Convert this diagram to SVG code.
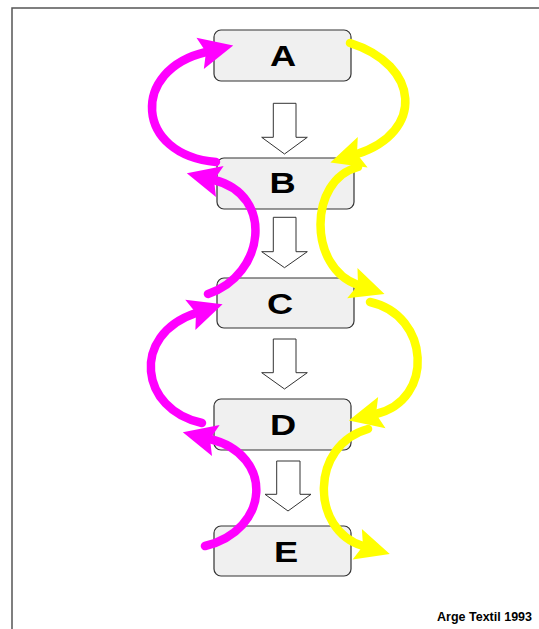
<svg xmlns="http://www.w3.org/2000/svg" width="539" height="629" viewBox="0 0 539 629">
<style>
.box{fill:#f0f0f0;stroke:#333;stroke-width:1.2}
.lbl{font-family:"Liberation Sans",Arial,sans-serif;font-weight:bold;font-size:29px;fill:#000;text-anchor:middle}
.down{fill:#fff;stroke:#333;stroke-width:1}
.mag{fill:none;stroke:#ff00ff;stroke-width:8.5;stroke-linecap:round}
.yel{fill:none;stroke:#ffff00;stroke-width:8.5;stroke-linecap:round}
.frame{fill:none;stroke:#555;stroke-width:1.5}
.credit{font-family:"Liberation Sans",Arial,sans-serif;font-weight:bold;font-size:12.5px;fill:#000;text-anchor:end}
</style>
<defs>
<marker id="hm" markerUnits="userSpaceOnUse" viewBox="-10 -20 45 40" refX="0" refY="0" markerWidth="45" markerHeight="40" orient="auto">
<path d="M28,0 L-6,-16 L0,0 L-6,16 Z" fill="#ff00ff"/>
</marker>
<marker id="hy" markerUnits="userSpaceOnUse" viewBox="-10 -20 45 40" refX="0" refY="0" markerWidth="45" markerHeight="40" orient="auto">
<path d="M28,0 L-6,-16 L0,0 L-6,16 Z" fill="#ffff00"/>
</marker>
</defs>
<rect width="539" height="629" fill="#fff"/>
<polyline class="frame" points="12,629 12,8 539,8"/>

<g id="nodeA"><rect class="box" x="214" y="30" width="137" height="51" rx="7"/><text class="lbl" transform="translate(283,66) scale(1.25,1)">A</text></g>
<g id="nodeB"><rect class="box" x="217" y="158" width="137" height="51" rx="7"/><text class="lbl" transform="translate(282.5,193) scale(1.25,1)">B</text></g>
<g id="nodeC"><rect class="box" x="217" y="278" width="137" height="50" rx="7"/><text class="lbl" transform="translate(280,314) scale(1.25,1)">C</text></g>
<g id="nodeD"><rect class="box" x="214" y="399" width="137" height="51" rx="7"/><text class="lbl" transform="translate(283,435) scale(1.25,1)">D</text></g>
<g id="nodeE"><rect class="box" x="214" y="526" width="137" height="50" rx="7"/><text class="lbl" transform="translate(286,562) scale(1.25,1)">E</text></g>

<g id="connectors">
<polygon class="down" points="273.3,103.3 296,103.3 296,137.3 307.3,137.3 284.5,154 261.7,137.3 273.3,137.3"/>
<polygon class="down" points="273.3,217.3 296,217.3 296,251.7 307.3,251.7 284.5,267.7 261.7,251.7 273.3,251.7"/>
<polygon class="down" points="273.3,339 296,339 296,372.7 307.3,372.7 284.5,389 261.7,372.7 273.3,372.7"/>
<polygon class="down" points="276.7,461 300,461 300,494.3 311,494.3 288,511 265,494.3 276.7,494.3"/>

<path class="mag" marker-end="url(#hm)" d="M216,162 C135,155 130,70 206,52"/>
<path class="mag" marker-end="url(#hm)" d="M208,294 C265,275 275,195 214,180"/>
<path class="mag" marker-end="url(#hm)" d="M202,423 C140,410 130,335 196,313"/>
<path class="mag" marker-end="url(#hm)" d="M205,546 C270,530 275,455 210,439"/>

<path class="yel" marker-end="url(#hy)" d="M350,43 C420,65 425,132 357,154"/>
<path class="yel" marker-end="url(#hy)" d="M358,167 C308,180 308,268 358,285"/>
<path class="yel" marker-end="url(#hy)" d="M370,302 C430,315 435,400 376,414"/>
<path class="yel" marker-end="url(#hy)" d="M368,429 C310,445 310,530 363,546"/>
</g>

<text class="credit" x="532" y="621">Arge Textil 1993</text>
</svg>
